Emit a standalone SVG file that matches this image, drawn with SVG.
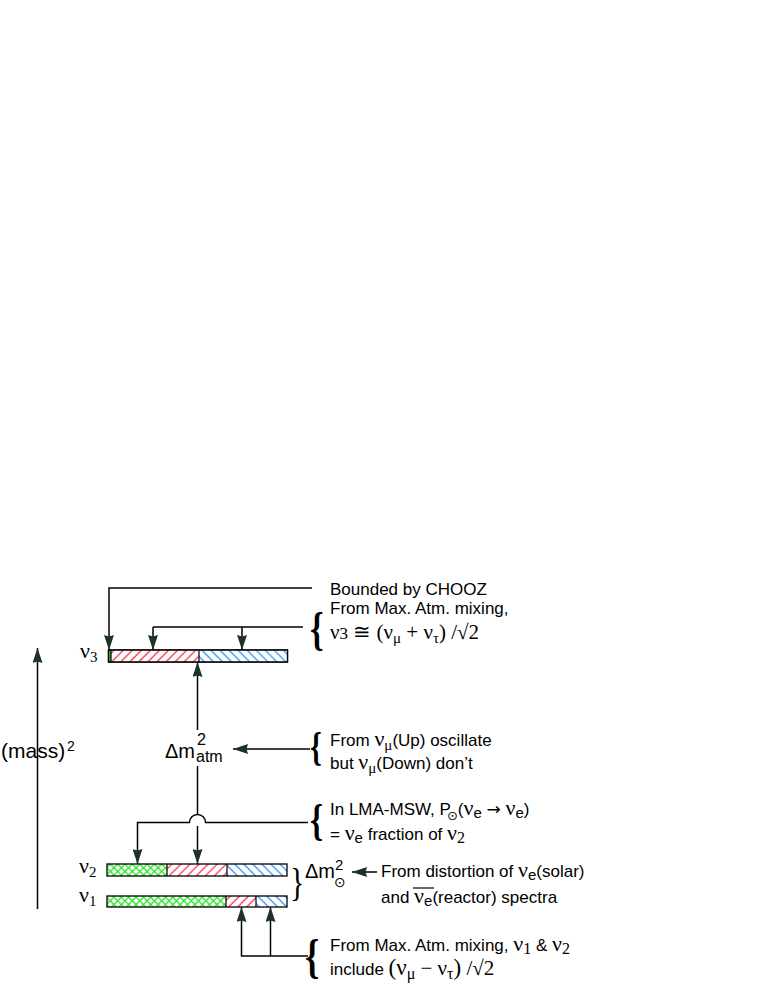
<svg xmlns="http://www.w3.org/2000/svg" width="763" height="987" viewBox="0 0 763 987">
<style>
.t{font-family:"Liberation Sans","DejaVu Sans",sans-serif;fill:#000}
.g{font-family:"Liberation Serif","DejaVu Serif",serif}
.sym{font-family:"DejaVu Sans",sans-serif}
.ln{fill:none;stroke:#000;stroke-width:1.5}
.ar{fill:none;stroke:#000;stroke-width:1.5;marker-end:url(#ah)}
.bar{stroke:#000;stroke-width:1.3}
.div{stroke:#000;stroke-width:1.2}
.br{font-family:"Liberation Serif","DejaVu Serif",serif;font-weight:bold;fill:#000}
</style>
<defs>
<marker id="ah" viewBox="0 0 15 10" refX="15" refY="5" markerWidth="15" markerHeight="10" markerUnits="userSpaceOnUse" orient="auto">
<path d="M0,0 L15,5 L0,10 L1.5,5 z" fill="#1f3324"/>
</marker>
<pattern id="red" width="6.4" height="6.4" patternUnits="userSpaceOnUse" patternTransform="rotate(45)">
<rect width="6.4" height="6.4" fill="#fff"/>
<line x1="3" y1="0" x2="3" y2="6.4" stroke="#ff3355" stroke-width="1.3"/>
</pattern>
<pattern id="blue" width="6.4" height="6.4" patternUnits="userSpaceOnUse" patternTransform="rotate(-45)">
<rect width="6.4" height="6.4" fill="#fff"/>
<line x1="3" y1="0" x2="3" y2="6.4" stroke="#3399ff" stroke-width="1.3"/>
</pattern>
<pattern id="green" width="5.2" height="5.2" patternUnits="userSpaceOnUse" patternTransform="rotate(45)">
<rect width="5.2" height="5.2" fill="#fff"/>
<line x1="2.6" y1="0" x2="2.6" y2="5.2" stroke="#33e633" stroke-width="1.4"/>
<line x1="0" y1="2.6" x2="5.2" y2="2.6" stroke="#33e633" stroke-width="1.4"/>
</pattern>
</defs>
<rect width="763" height="987" fill="#fff"/>

<g id="connectors">
<polyline class="ar" points="312,588 109,588 109,650"/>
<polyline class="ln" points="303,627 153,627"/>
<line class="ar" x1="153" y1="627" x2="153" y2="650"/>
<line class="ar" x1="242" y1="627" x2="242" y2="650"/>
<line class="ar" x1="197.5" y1="730" x2="197.5" y2="662"/>
<line class="ar" x1="310" y1="749" x2="233" y2="749"/>
<line class="ln" x1="197.5" y1="766" x2="197.5" y2="815"/>
<line class="ar" x1="197.5" y1="826" x2="197.5" y2="864"/>
<path class="ar" d="M308,822.5 H205.5 A8,8 0 0 0 189.5,822.5 H137.5 V864"/>
<line class="ar" x1="377" y1="872" x2="352" y2="872"/>
<polyline class="ar" points="308,956 241.5,956 241.5,907"/>
<line class="ar" x1="270.5" y1="956" x2="270.5" y2="907"/>
<line class="ar" x1="37.5" y1="909" x2="37.5" y2="648"/>
</g>

<g font-size="17">
<g id="nu3">
<rect class="bar" x="108.5" y="650" width="179" height="12" fill="#fff"/>
<rect x="109" y="650.6" width="2" height="10.8" fill="#33cc33"/>
<rect x="111" y="650.6" width="88" height="10.8" fill="url(#red)"/>
<rect x="199" y="650.6" width="88" height="10.8" fill="url(#blue)"/>
<rect class="bar" x="108.5" y="650" width="179" height="12" fill="none"/>
<line class="div" x1="111" y1="650" x2="111" y2="662"/>
<line class="div" x1="199" y1="650" x2="199" y2="662"/>
<text class="g" x="80" y="658" font-size="22">ν<tspan font-size="15" dy="4">3</tspan></text>
</g>

<g id="nu2">
<rect x="107" y="864" width="60" height="12" fill="url(#green)"/>
<rect x="167" y="864" width="60" height="12" fill="url(#red)"/>
<rect x="227" y="864" width="60" height="12" fill="url(#blue)"/>
<rect class="bar" x="107" y="864" width="180" height="12" fill="none"/>
<line class="div" x1="167" y1="864" x2="167" y2="876"/>
<line class="div" x1="227" y1="864" x2="227" y2="876"/>
<text class="g" x="79" y="873" font-size="22">ν<tspan font-size="15" dy="4">2</tspan></text>
</g>

<g id="nu1">
<rect x="107" y="896" width="119" height="11" fill="url(#green)"/>
<rect x="226" y="896" width="30" height="11" fill="url(#red)"/>
<rect x="256" y="896" width="31" height="11" fill="url(#blue)"/>
<rect class="bar" x="107" y="896" width="180" height="11" fill="none"/>
<line class="div" x1="226" y1="896" x2="226" y2="907"/>
<line class="div" x1="256" y1="896" x2="256" y2="907"/>
<text class="g" x="79" y="902" font-size="22">ν<tspan font-size="15" dy="4">1</tspan></text>
</g>

<g id="mass">
<text class="t" x="1" y="758" font-size="21">(mass)</text>
<text class="t" x="67" y="751" font-size="14">2</text>
</g>

<g id="dm-atm">
<text class="t" x="165" y="758" font-size="20">Δm</text>
<text class="t" x="197" y="745" font-size="16">2</text>
<text class="t" x="196" y="762" font-size="16">atm</text>
</g>

<g id="dm-sol">
<text class="g" x="0" y="0" font-size="40" transform="translate(290,896) scale(0.75,1)">}</text>
<text class="t" x="305" y="878" font-size="20">Δm</text>
<text class="t" x="335" y="870" font-size="15">2</text>
<text class="sym" x="334" y="887" font-size="14">⊙</text>
</g>

<g id="note-chooz">
<text class="t" x="330" y="595">Bounded by CHOOZ</text>
</g>

<g id="note-maxatm3">
<text class="br" x="0" y="0" font-size="46" transform="translate(310,644) scale(0.75,1)">{</text>
<text class="t" x="330" y="614">From Max. Atm. mixing,</text>
<text class="g" x="330" y="639" font-size="21">ν<tspan font-size="17">3</tspan> ≅ (ν<tspan font-size="15" dy="4">μ</tspan><tspan dy="-4"> + ν</tspan><tspan font-size="15" dy="4">τ</tspan><tspan dy="-4">) /√2</tspan></text>
</g>

<g id="note-updown">
<text class="br" x="0" y="0" font-size="40" transform="translate(310,760) scale(0.75,1)">{</text>
<text class="t" x="330" y="746">From <tspan class="g" font-size="22">ν</tspan><tspan class="g" font-size="15" dy="4">μ</tspan><tspan dy="-4">(Up) oscillate</tspan></text>
<text class="t" x="330" y="769">but <tspan class="g" font-size="22">ν</tspan><tspan class="g" font-size="15" dy="4">μ</tspan><tspan dy="-4">(Down) don’t</tspan></text>
</g>

<g id="note-lma">
<text class="br" x="0" y="0" font-size="44" transform="translate(310,835) scale(0.75,1)">{</text>
<text class="t" x="330" y="815">In LMA-MSW, P<tspan class="sym" font-size="13" dx="-4" dy="5">⊙</tspan><tspan dy="-5">(</tspan><tspan class="g" font-size="22">ν</tspan><tspan font-size="15" dy="3">e</tspan><tspan dy="-3"> </tspan><tspan class="sym">→</tspan><tspan> </tspan><tspan class="g" font-size="22">ν</tspan><tspan font-size="15" dy="3">e</tspan><tspan dy="-3">)</tspan></text>
<text class="t" x="330" y="840">= <tspan class="g" font-size="22">ν</tspan><tspan font-size="15" dy="3">e</tspan><tspan dy="-3"> fraction of </tspan><tspan class="g" font-size="22">ν</tspan><tspan class="g" font-size="16" dy="3">2</tspan></text>
</g>

<g id="note-solar">
<text class="t" x="381" y="877">From distortion of <tspan class="g" font-size="22">ν</tspan><tspan font-size="15" dy="3">e</tspan><tspan dy="-3">(solar)</tspan></text>
<text class="t" x="381" y="903">and <tspan class="g" font-size="22">ν</tspan><tspan font-size="15" dy="3">e</tspan><tspan dy="-3">(reactor) spectra</tspan></text>
<line x1="413" y1="888" x2="434" y2="888" stroke="#000" stroke-width="1.2"/>
</g>

<g id="note-maxatm12">
<text class="br" x="0" y="0" font-size="48" transform="translate(305,973) scale(0.75,1)">{</text>
<text class="t" x="330" y="951">From Max. Atm. mixing, <tspan class="g" font-size="22">ν</tspan><tspan class="g" font-size="16" dy="3">1</tspan><tspan dy="-3"> &amp; </tspan><tspan class="g" font-size="22">ν</tspan><tspan class="g" font-size="16" dy="3">2</tspan></text>
<text class="t" x="330" y="975">include <tspan class="g" font-size="23">(ν</tspan><tspan class="g" font-size="16" dy="4">μ</tspan><tspan class="g" font-size="21" dy="-4"> − ν</tspan><tspan class="g" font-size="16" dy="4">τ</tspan><tspan class="g" font-size="23" dy="-4">)</tspan><tspan class="g" font-size="21"> /√2</tspan></text>
</g>
</g>
</svg>
